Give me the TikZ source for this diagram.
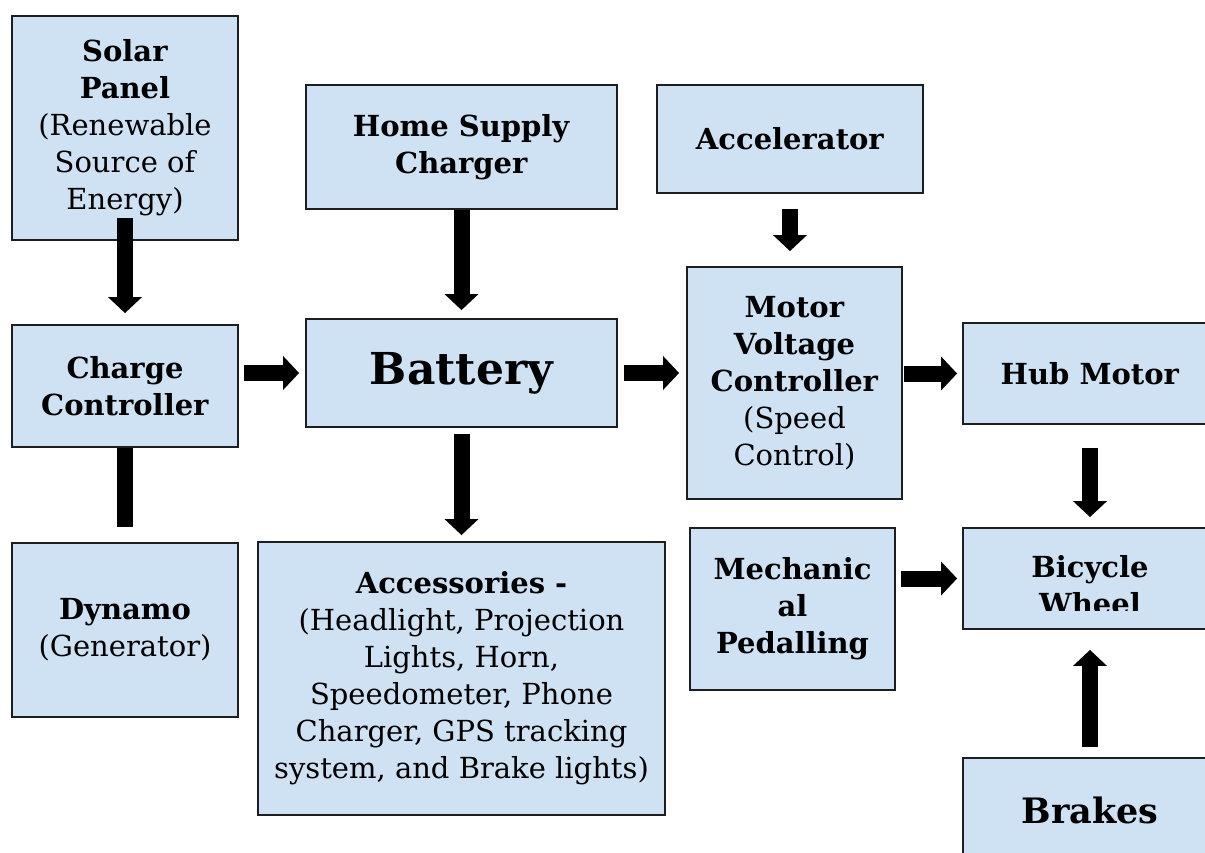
\documentclass[tikz,border=0pt]{standalone}
\usepackage{fontspec}
\setmainfont{DejaVu Serif}
\usetikzlibrary{arrows.meta}
\definecolor{boxblue}{RGB}{207, 226, 243}
\definecolor{edge}{RGB}{30, 30, 30}

\begin{document}
\begin{tikzpicture}[x=0.5pt, y=-0.5pt,
  box/.style={draw=edge, fill=boxblue, line width=0.9pt, inner sep=0pt,
    align=center, font=\fontsize{14.5}{18.5}\selectfont},
  bigbox/.style={box, font=\fontsize{22}{26}\selectfont\bfseries},
  blockarrow/.style={line width=8pt, -{Triangle[width=16.5pt, length=8pt]}},
  bar/.style={line width=8pt}]

  \clip (0, 0) rectangle (1205, 852);

  % boxes
  \node[box, minimum width=113pt, minimum height=112pt] (solar) at (125, 128)
    {\textbf{Solar}\\\textbf{Panel}\\(Renewable\\Source of\\Energy)};
  \node[box, minimum width=155.5pt, minimum height=62pt] (home) at (461.5, 147)
    {\textbf{Home Supply}\\\textbf{Charger}};
  \node[box, minimum width=133pt, minimum height=54pt] (accel) at (790, 139)
    {\textbf{Accelerator}};

  \node[box, minimum width=113pt, minimum height=61pt] (charge) at (125, 386)
    {\textbf{Charge}\\\textbf{Controller}};
  \node[bigbox, minimum width=155.5pt, minimum height=54pt] (battery) at (461.5, 373)
    {Battery};
  \node[box, minimum width=107.5pt, minimum height=116pt] (motor) at (794.5, 383)
    {\textbf{Motor}\\\textbf{Voltage}\\\textbf{Controller}\\(Speed\\Control)};
  \node[box, minimum width=127pt, minimum height=50.5pt] (hub) at (1090, 373.5)
    {\textbf{Hub Motor}};

  \node[box, minimum width=113pt, minimum height=87pt] (dynamo) at (125, 630)
    {\textbf{Dynamo}\\(Generator)};
  \node[box, minimum width=203.5pt, minimum height=136.5pt] (acc) at (461.5, 678.5)
    {\textbf{Accessories -}\\(Headlight, Projection\\Lights, Horn,\\Speedometer, Phone\\Charger, GPS tracking\\system, and Brake lights)};
  \node[box, minimum width=102.5pt, minimum height=81pt] (mech) at (792.5, 609)
    {\textbf{Mechanic}\\\textbf{al}\\\textbf{Pedalling}};
  \node[box, minimum width=127pt, minimum height=50.5pt] (wheel) at (1090, 578.5) {};
  \begin{scope}
    \clip (963, 528) rectangle (1217, 610);
    \node[box, draw=none, fill=none] (wheeltext) at (1090, 585)
      {\textbf{Bicycle}\\\textbf{Wheel}};
  \end{scope}
  \node[box, minimum width=127pt, minimum height=52pt,
    font=\fontsize{17.5}{22}\selectfont\bfseries] (brakes) at (1090, 810) {Brakes};

  % arrows
  \draw[blockarrow, shorten <=-11.5pt, shorten >=5.5pt] (solar.south) -- (charge.north);
  \draw[bar, shorten >=7.5pt] (charge.south) -- (dynamo.north);
  \draw[blockarrow, shorten <=2.5pt, shorten >=3pt] (charge.east |- battery.west) -- (battery.west);
  \draw[blockarrow, shorten >=4pt] (home.south) -- (battery.north);
  \draw[blockarrow, shorten <=3pt, shorten >=3pt] (battery.south) -- (acc.north);
  \draw[blockarrow, shorten <=3pt, shorten >=3.5pt] (battery.east) -- (battery.east -| motor.west);
  \draw[blockarrow, shorten <=7.5pt, shorten >=7.5pt] (accel.south) -- (accel.south |- motor.north);
  \draw[blockarrow, shorten <=0.5pt, shorten >=2.5pt] (motor.east |- hub.west) -- (hub.west);
  \draw[blockarrow, shorten <=11.5pt, shorten >=5pt] (hub.south) -- (wheel.north);
  \draw[blockarrow, shorten <=2.5pt, shorten >=2.5pt] (mech.east |- wheel.west) -- (wheel.west);
  \draw[blockarrow, shorten <=5pt, shorten >=10pt] (brakes.north) -- (wheel.south);

\end{tikzpicture}
\end{document}
